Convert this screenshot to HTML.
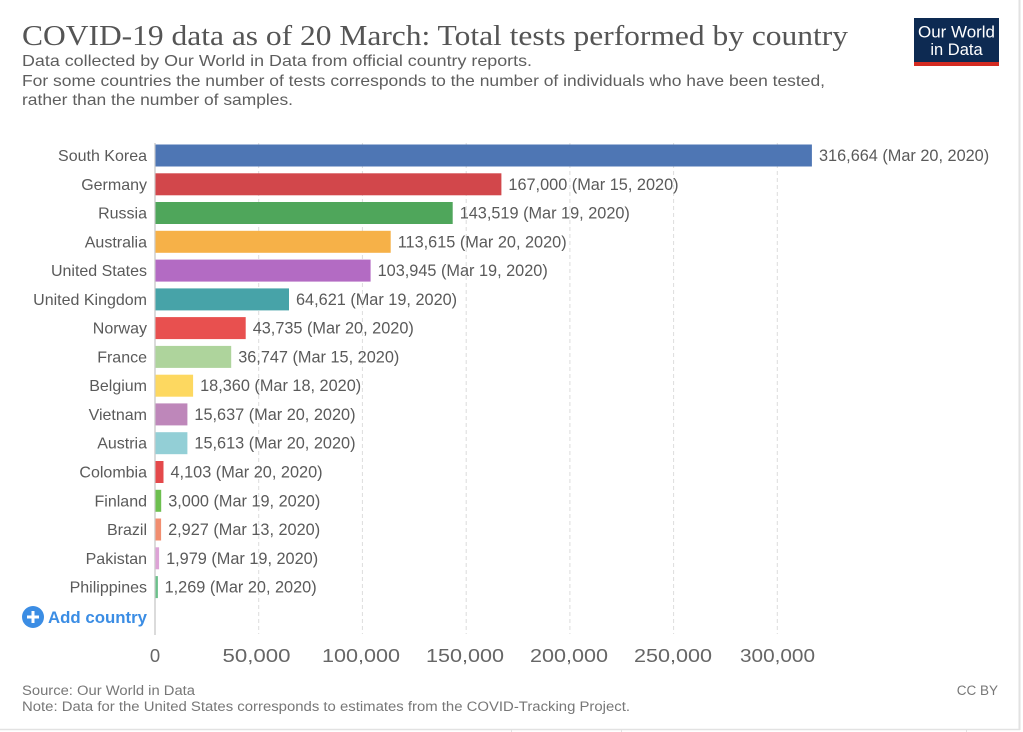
<!DOCTYPE html>
<html><head><meta charset="utf-8"><style>
html,body{margin:0;padding:0;background:#fff;}
svg{display:block;font-family:"Liberation Sans",sans-serif;}
</style></head><body>
<svg width="1023" height="732" viewBox="0 0 1023 732" xmlns="http://www.w3.org/2000/svg">
<rect width="1023" height="732" fill="#fff"/>
<!-- frame -->
<line x1="1019.5" y1="0" x2="1019.5" y2="730" stroke="#e2e2e2" stroke-width="2"/>
<line x1="0" y1="729.5" x2="1020" y2="729.5" stroke="#e2e2e2" stroke-width="1.5"/>
<line x1="511.5" y1="729" x2="511.5" y2="732" stroke="#e2e2e2"/>
<line x1="621.5" y1="729" x2="621.5" y2="732" stroke="#e2e2e2"/>
<line x1="966.5" y1="729" x2="966.5" y2="732" stroke="#e2e2e2"/>

<!-- title -->
<text x="22" y="45" font-family="'Liberation Serif',serif" font-size="29" fill="#555" textLength="826" lengthAdjust="spacingAndGlyphs">COVID-19 data as of 20 March: Total tests performed by country</text>
<g font-size="16" fill="#5e5e5e">
<text x="22" y="66" textLength="510" lengthAdjust="spacingAndGlyphs">Data collected by Our World in Data from official country reports.</text>
<text x="22" y="86" textLength="803" lengthAdjust="spacingAndGlyphs">For some countries the number of tests corresponds to the number of individuals who have been tested,</text>
<text x="22" y="105" textLength="271" lengthAdjust="spacingAndGlyphs">rather than the number of samples.</text>
</g>

<!-- logo -->
<rect x="914" y="18" width="85" height="48" fill="#0d2a52"/>
<rect x="914" y="62" width="85" height="4" fill="#d42b21"/>
<text x="956.5" y="37.5" font-size="16.5" fill="#fff" text-anchor="middle" textLength="77" lengthAdjust="spacingAndGlyphs">Our World</text>
<text x="956.5" y="55" font-size="16.5" fill="#fff" text-anchor="middle">in Data</text>

<!-- gridlines -->
<g stroke="#dcdcdc" stroke-width="1" stroke-dasharray="4,3">
<line x1="258.7" y1="143" x2="258.7" y2="634"/>
<line x1="362.4" y1="143" x2="362.4" y2="634"/>
<line x1="466.2" y1="143" x2="466.2" y2="634"/>
<line x1="569.9" y1="143" x2="569.9" y2="634"/>
<line x1="673.6" y1="143" x2="673.6" y2="634"/>
<line x1="777.3" y1="143" x2="777.3" y2="634"/>
</g>
<line x1="155" y1="143" x2="155" y2="635" stroke="#cfcfcf" stroke-width="1.5"/>

<!-- bars -->
<g>
<rect x="155.5" y="144.5" width="656.4" height="22" fill="#4e76b4"/>
<rect x="155.5" y="173.3" width="345.9" height="22" fill="#d2474b"/>
<rect x="155.5" y="202.0" width="297.2" height="22" fill="#4fa65b"/>
<rect x="155.5" y="230.8" width="235.2" height="22" fill="#f6b148"/>
<rect x="155.5" y="259.6" width="215.1" height="22" fill="#b36bc3"/>
<rect x="155.5" y="288.4" width="133.5" height="22" fill="#47a3a8"/>
<rect x="155.5" y="317.1" width="90.2" height="22" fill="#e8504f"/>
<rect x="155.5" y="345.9" width="75.7" height="22" fill="#aed49c"/>
<rect x="155.5" y="374.7" width="37.6" height="22" fill="#fdd860"/>
<rect x="155.5" y="403.4" width="31.9" height="22" fill="#be87ba"/>
<rect x="155.5" y="432.2" width="31.9" height="22" fill="#93cfd6"/>
<rect x="155.5" y="461.0" width="8.0" height="22" fill="#e4494b"/>
<rect x="155.5" y="489.8" width="5.7" height="22" fill="#6dbf4f"/>
<rect x="155.5" y="518.5" width="5.6" height="22" fill="#f18e70"/>
<rect x="155.5" y="547.3" width="3.6" height="22" fill="#dda3d6"/>
<rect x="155.5" y="576.1" width="2.4" height="22" fill="#6cc08b"/>
</g>

<!-- country labels -->
<g font-size="16" fill="#5a5a5a" text-anchor="end">
<text x="147" y="161">South Korea</text>
<text x="147" y="189.8">Germany</text>
<text x="147" y="218.5">Russia</text>
<text x="147" y="247.3">Australia</text>
<text x="147" y="276.1">United States</text>
<text x="147" y="304.9">United Kingdom</text>
<text x="147" y="333.6">Norway</text>
<text x="147" y="362.4">France</text>
<text x="147" y="391.2">Belgium</text>
<text x="147" y="419.9">Vietnam</text>
<text x="147" y="448.7">Austria</text>
<text x="147" y="477.5">Colombia</text>
<text x="147" y="506.3">Finland</text>
<text x="147" y="535.0">Brazil</text>
<text x="147" y="563.8">Pakistan</text>
<text x="147" y="592.6">Philippines</text>
</g>

<!-- value labels -->
<g font-size="16.3" fill="#5a5a5a">
<text x="819" y="161">316,664 (Mar 20, 2020)</text>
<text x="508.4" y="189.8">167,000 (Mar 15, 2020)</text>
<text x="459.7" y="218.5">143,519 (Mar 19, 2020)</text>
<text x="397.7" y="247.3">113,615 (Mar 20, 2020)</text>
<text x="377.6" y="276.1">103,945 (Mar 19, 2020)</text>
<text x="296" y="304.9">64,621 (Mar 19, 2020)</text>
<text x="252.7" y="333.6">43,735 (Mar 20, 2020)</text>
<text x="238.2" y="362.4">36,747 (Mar 15, 2020)</text>
<text x="200.1" y="391.2">18,360 (Mar 18, 2020)</text>
<text x="194.4" y="419.9">15,637 (Mar 20, 2020)</text>
<text x="194.4" y="448.7">15,613 (Mar 20, 2020)</text>
<text x="170.5" y="477.5">4,103 (Mar 20, 2020)</text>
<text x="168.2" y="506.3">3,000 (Mar 19, 2020)</text>
<text x="168.1" y="535.0">2,927 (Mar 13, 2020)</text>
<text x="166.1" y="563.8">1,979 (Mar 19, 2020)</text>
<text x="164.6" y="592.6">1,269 (Mar 20, 2020)</text>
</g>

<!-- add country -->
<circle cx="33" cy="617" r="11" fill="#3b8de4"/>
<rect x="27" y="615.5" width="12" height="3" fill="#fff"/>
<rect x="31.5" y="611" width="3" height="12" fill="#fff"/>
<text x="48" y="623" font-size="17" font-weight="bold" fill="#3b8de4" textLength="99" lengthAdjust="spacingAndGlyphs">Add country</text>

<!-- x tick labels -->
<g font-size="18.5" fill="#666" text-anchor="middle">
<text x="155" y="662">0</text>
<text x="256.5" y="662" textLength="68" lengthAdjust="spacingAndGlyphs">50,000</text>
<text x="361" y="662" textLength="78" lengthAdjust="spacingAndGlyphs">100,000</text>
<text x="465" y="662" textLength="78" lengthAdjust="spacingAndGlyphs">150,000</text>
<text x="569" y="662" textLength="78" lengthAdjust="spacingAndGlyphs">200,000</text>
<text x="673" y="662" textLength="78" lengthAdjust="spacingAndGlyphs">250,000</text>
<text x="777.5" y="662" textLength="75" lengthAdjust="spacingAndGlyphs">300,000</text>
</g>

<!-- footer -->
<g font-size="13.5" fill="#777">
<text x="22" y="695" textLength="173" lengthAdjust="spacingAndGlyphs">Source: Our World in Data</text>
<text x="22" y="711" textLength="608" lengthAdjust="spacingAndGlyphs">Note: Data for the United States corresponds to estimates from the COVID-Tracking Project.</text>
<text x="998" y="695" text-anchor="end">CC BY</text>
</g>
</svg>
</body></html>
